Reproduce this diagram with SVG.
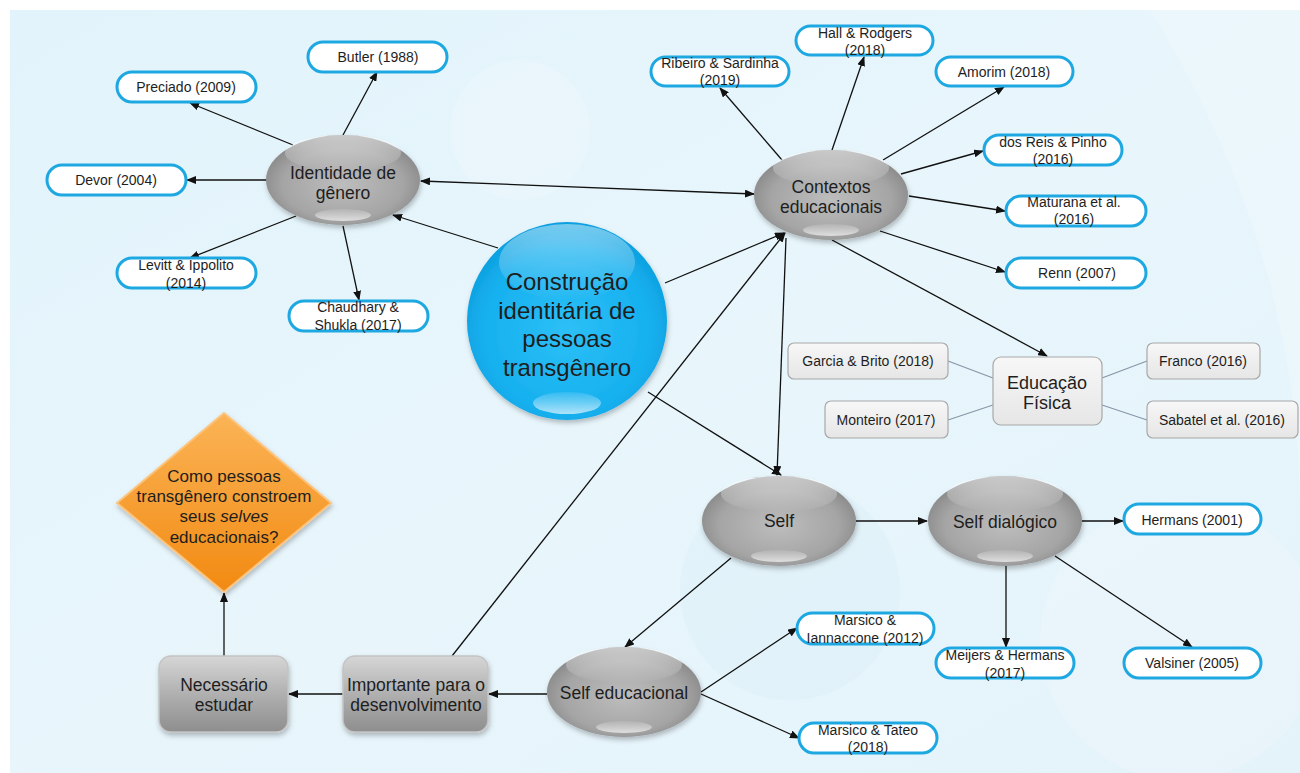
<svg xmlns="http://www.w3.org/2000/svg" width="1300" height="773" viewBox="0 0 1300 773">
<style>
text{font-family:"Liberation Sans",Arial,sans-serif;fill:#1e1e1e;text-anchor:middle}
.pill{fill:#fff;stroke:#1ea8e2;stroke-width:3}
.pt{font-size:14px}
.ct{font-size:17.5px}
.conn line{stroke:#111;stroke-width:1.3;marker-end:url(#ah)}
.sub line{stroke:#8797a6;stroke-width:1.3}
.gbox{fill:url(#gBoxLight);stroke:#a8a8a8;stroke-width:1.2}
.hl{fill:url(#gHi)}
.bl{fill:url(#gLo)}
</style>
<defs>
<marker id="ah" markerUnits="userSpaceOnUse" markerWidth="10" markerHeight="8" refX="9" refY="4" orient="auto-start-reverse" viewBox="0 0 10 8">
<path d="M0,0 L10,4 L0,8 z" fill="#111"/>
</marker>
<linearGradient id="gBg" x1="0" y1="0" x2="1" y2="1">
<stop offset="0" stop-color="#e2f3fb"/>
<stop offset="0.5" stop-color="#e8f6fc"/>
<stop offset="1" stop-color="#e4f3fa"/>
</linearGradient>
<radialGradient id="gSphere" cx="50%" cy="55%" r="60%">
<stop offset="0" stop-color="#bdbdbd"/>
<stop offset="0.65" stop-color="#a5a5a5"/>
<stop offset="1" stop-color="#7f7f7f"/>
</radialGradient>
<radialGradient id="gBlue" cx="50%" cy="55%" r="60%">
<stop offset="0" stop-color="#2cc0f6"/>
<stop offset="0.7" stop-color="#16b0ef"/>
<stop offset="1" stop-color="#0a98d8"/>
</radialGradient>
<linearGradient id="gHi" x1="0" y1="0" x2="0" y2="1">
<stop offset="0" stop-color="#fff" stop-opacity="0.55"/>
<stop offset="1" stop-color="#fff" stop-opacity="0"/>
</linearGradient>
<linearGradient id="gLo" x1="0" y1="0" x2="0" y2="1">
<stop offset="0" stop-color="#fff" stop-opacity="0.1"/>
<stop offset="1" stop-color="#fff" stop-opacity="0.65"/>
</linearGradient>
<linearGradient id="gOrange" x1="0" y1="0" x2="0" y2="1">
<stop offset="0" stop-color="#fbb456"/>
<stop offset="1" stop-color="#f28a12"/>
</linearGradient>
<linearGradient id="gRect" x1="0" y1="0" x2="0" y2="1">
<stop offset="0" stop-color="#d6d6d6"/>
<stop offset="0.5" stop-color="#b0b0b0"/>
<stop offset="1" stop-color="#8e8e8e"/>
</linearGradient>
<linearGradient id="gBoxLight" x1="0" y1="0" x2="0" y2="1">
<stop offset="0" stop-color="#f7f7f7"/>
<stop offset="1" stop-color="#e6e6e6"/>
</linearGradient>
<filter id="sh" x="-20%" y="-20%" width="140%" height="150%">
<feDropShadow dx="1" dy="3" stdDeviation="2.5" flood-color="#000" flood-opacity="0.25"/>
</filter>
</defs>

<rect x="0" y="0" width="1300" height="773" fill="#fff"/>
<rect x="10" y="10" width="1290" height="763" fill="url(#gBg)"/>
<circle cx="520" cy="130" r="70" fill="#fff" opacity="0.15"/>
<circle cx="790" cy="590" r="110" fill="#d8ecf6" opacity="0.3"/>
<circle cx="1180" cy="640" r="140" fill="#fff" opacity="0.15"/>
<path d="M1150,10 Q1300,250 1300,520 L1300,10 Z" fill="#fff" opacity="0.2"/>

<g id="connectors">
<g class="conn">
<line x1="293" y1="145" x2="190" y2="103"/>
<line x1="343" y1="135" x2="377" y2="72"/>
<line x1="267" y1="180" x2="187" y2="180"/>
<line x1="296" y1="216" x2="190" y2="258"/>
<line x1="343" y1="226" x2="359" y2="300"/>
<line x1="421" y1="181" x2="754" y2="194" style="marker-start:url(#ah)"/>
<line x1="498" y1="248" x2="393" y2="215"/>
<line x1="782" y1="160" x2="720" y2="88"/>
<line x1="832" y1="150" x2="864" y2="57"/>
<line x1="883" y1="160" x2="1004" y2="87"/>
<line x1="901" y1="174" x2="983" y2="151"/>
<line x1="909" y1="196" x2="1005" y2="211"/>
<line x1="880" y1="231" x2="1005" y2="272"/>
<line x1="832" y1="240" x2="1047" y2="356"/>
<line x1="665" y1="283" x2="784" y2="233"/>
<line x1="452" y1="656" x2="785" y2="233"/>
<line x1="786" y1="238" x2="777" y2="475"/>
<line x1="648" y1="392" x2="781" y2="475"/>
<line x1="856" y1="521" x2="927" y2="521"/>
<line x1="1082" y1="521" x2="1123" y2="521"/>
<line x1="1006" y1="566" x2="1006" y2="647"/>
<line x1="1055" y1="556" x2="1192" y2="647"/>
<line x1="731" y1="558" x2="625" y2="647"/>
<line x1="701" y1="692" x2="797" y2="628"/>
<line x1="701" y1="694" x2="799" y2="738"/>
<line x1="547" y1="694" x2="489" y2="694"/>
<line x1="343" y1="694" x2="289" y2="694"/>
<line x1="224" y1="656" x2="224" y2="593"/>
</g>
<g class="sub">
<line x1="948" y1="361" x2="993" y2="378"/>
<line x1="948" y1="420" x2="993" y2="405"/>
<line x1="1147" y1="361" x2="1102" y2="378"/>
<line x1="1147" y1="420" x2="1102" y2="405"/>
</g>
</g>

<g id="n-identidade">
<ellipse cx="343" cy="180" rx="77" ry="45" fill="url(#gSphere)" filter="url(#sh)"/>
<ellipse cx="343" cy="153" rx="58" ry="18" class="hl"/>
<ellipse cx="343" cy="215" rx="28" ry="6" class="bl"/>
<text class="ct" x="343" y="179">Identidade de</text>
<text class="ct" x="343" y="199">gênero</text>
</g>
<g id="n-butler"><rect class="pill" x="308" y="42" width="139" height="30" rx="15"/><text class="pt" x="378" y="62">Butler (1988)</text></g>
<g id="n-preciado"><rect class="pill" x="117" y="72" width="139" height="30" rx="15"/><text class="pt" x="186" y="92">Preciado (2009)</text></g>
<g id="n-devor"><rect class="pill" x="47" y="165" width="139" height="30" rx="15"/><text class="pt" x="116" y="185">Devor (2004)</text></g>
<g id="n-levitt"><rect class="pill" x="117" y="258" width="139" height="30" rx="15"/><text class="pt" x="186" y="270">Levitt &amp; Ippolito</text><text class="pt" x="186" y="288">(2014)</text></g>
<g id="n-chaudhary"><rect class="pill" x="289" y="301" width="139" height="30" rx="15"/><text class="pt" x="358" y="312">Chaudhary &amp;</text><text class="pt" x="358" y="330">Shukla (2017)</text></g>

<g id="n-construcao">
<ellipse cx="567" cy="321" rx="100" ry="99" fill="url(#gBlue)" filter="url(#sh)"/>
<ellipse cx="567" cy="262" rx="68" ry="38" class="hl" opacity="0.8"/>
<ellipse cx="567" cy="403" rx="34" ry="11" class="bl"/>
<text x="567" y="290" font-size="24">Construção</text>
<text x="567" y="319" font-size="24">identitária de</text>
<text x="567" y="347" font-size="24">pessoas</text>
<text x="567" y="376" font-size="24">transgênero</text>
</g>

<g id="n-contextos">
<ellipse cx="831" cy="195" rx="77" ry="45" fill="url(#gSphere)" filter="url(#sh)"/>
<ellipse cx="831" cy="168" rx="58" ry="18" class="hl"/>
<ellipse cx="831" cy="230" rx="28" ry="6" class="bl"/>
<text class="ct" x="831" y="193">Contextos</text>
<text class="ct" x="831" y="213">educacionais</text>
</g>
<g id="n-ribeiro"><rect class="pill" x="651" y="57" width="138" height="29" rx="14.5"/><text class="pt" x="720" y="68">Ribeiro &amp; Sardinha</text><text class="pt" x="720" y="85">(2019)</text></g>
<g id="n-hall"><rect class="pill" x="796" y="26" width="137" height="29" rx="14.5"/><text class="pt" x="865" y="38">Hall &amp; Rodgers</text><text class="pt" x="865" y="55">(2018)</text></g>
<g id="n-amorim"><rect class="pill" x="936" y="57" width="137" height="29" rx="14.5"/><text class="pt" x="1004" y="77">Amorim (2018)</text></g>
<g id="n-dosreis"><rect class="pill" x="984" y="135" width="138" height="30" rx="15"/><text class="pt" x="1053" y="147">dos Reis &amp; Pinho</text><text class="pt" x="1053" y="164">(2016)</text></g>
<g id="n-maturana"><rect class="pill" x="1006" y="196" width="140" height="30" rx="15"/><text class="pt" x="1074" y="207">Maturana et al.</text><text class="pt" x="1074" y="224">(2016)</text></g>
<g id="n-renn"><rect class="pill" x="1006" y="258" width="140" height="30" rx="15"/><text class="pt" x="1077" y="278">Renn (2007)</text></g>

<g id="n-edfisica"><rect class="gbox" x="993" y="357" width="109" height="68" rx="8"/><text x="1047" y="389" font-size="18">Educação</text><text x="1047" y="409" font-size="18">Física</text></g>
<g id="n-garcia"><rect class="gbox" x="788" y="343" width="160" height="36" rx="6"/><text class="pt" x="868" y="366">Garcia &amp; Brito (2018)</text></g>
<g id="n-monteiro"><rect class="gbox" x="825" y="401" width="123" height="37" rx="6"/><text class="pt" x="886" y="425">Monteiro (2017)</text></g>
<g id="n-franco"><rect class="gbox" x="1147" y="343" width="113" height="36" rx="6"/><text class="pt" x="1203" y="366">Franco (2016)</text></g>
<g id="n-sabatel"><rect class="gbox" x="1147" y="401" width="151" height="37" rx="6"/><text class="pt" x="1222" y="425">Sabatel et al. (2016)</text></g>

<g id="n-self">
<ellipse cx="779" cy="521" rx="77" ry="45" fill="url(#gSphere)" filter="url(#sh)"/>
<ellipse cx="779" cy="494" rx="58" ry="18" class="hl"/>
<ellipse cx="779" cy="556" rx="28" ry="6" class="bl"/>
<text class="ct" x="779" y="527">Self</text>
</g>
<g id="n-selfdialogico">
<ellipse cx="1005" cy="521" rx="77" ry="45" fill="url(#gSphere)" filter="url(#sh)"/>
<ellipse cx="1005" cy="494" rx="58" ry="18" class="hl"/>
<ellipse cx="1005" cy="556" rx="28" ry="6" class="bl"/>
<text class="ct" x="1005" y="528">Self dialógico</text>
</g>
<g id="n-hermans"><rect class="pill" x="1124" y="504" width="137" height="30" rx="15"/><text class="pt" x="1192" y="525">Hermans (2001)</text></g>
<g id="n-meijers"><rect class="pill" x="936" y="648" width="138" height="30" rx="15"/><text class="pt" x="1005" y="660">Meijers &amp; Hermans</text><text class="pt" x="1005" y="678">(2017)</text></g>
<g id="n-valsiner"><rect class="pill" x="1124" y="648" width="137" height="30" rx="15"/><text class="pt" x="1192" y="668">Valsiner (2005)</text></g>

<g id="n-selfeducacional">
<ellipse cx="624" cy="692" rx="77" ry="45" fill="url(#gSphere)" filter="url(#sh)"/>
<ellipse cx="624" cy="665" rx="58" ry="18" class="hl"/>
<ellipse cx="624" cy="727" rx="28" ry="6" class="bl"/>
<text class="ct" x="624" y="699">Self educacional</text>
</g>
<g id="n-marsicoi"><rect class="pill" x="797" y="613" width="137" height="31" rx="15.5"/><text class="pt" x="865" y="625">Marsico &amp;</text><text class="pt" x="865" y="643">Iannaccone (2012)</text></g>
<g id="n-marsicot"><rect class="pill" x="799" y="723" width="138" height="30" rx="15"/><text class="pt" x="868" y="735">Marsico &amp; Tateo</text><text class="pt" x="868" y="752">(2018)</text></g>

<g id="n-importante">
<rect x="343" y="656" width="145" height="76" rx="12" fill="url(#gRect)" stroke="#c4c4c4" stroke-width="1.5" filter="url(#sh)"/>
<text x="416" y="691" font-size="17.5">Importante para o</text>
<text x="416" y="711" font-size="17.5">desenvolvimento</text>
</g>
<g id="n-necessario">
<rect x="159" y="656" width="129" height="76" rx="12" fill="url(#gRect)" stroke="#c4c4c4" stroke-width="1.5" filter="url(#sh)"/>
<text x="224" y="691" font-size="17.5">Necessário</text>
<text x="224" y="711" font-size="17.5">estudar</text>
</g>
<g id="n-pergunta">
<polygon points="224,413 331,503 224,592 117,503" fill="url(#gOrange)" stroke="#fcc47e" stroke-width="2" stroke-linejoin="round" filter="url(#sh)"/>
<text x="224" y="482" font-size="17">Como pessoas</text>
<text x="224" y="502" font-size="17">transgênero constroem</text>
<text x="224" y="522" font-size="17">seus <tspan font-style="italic">selves</tspan></text>
<text x="224" y="543" font-size="17">educacionais?</text>
</g>
</svg>
